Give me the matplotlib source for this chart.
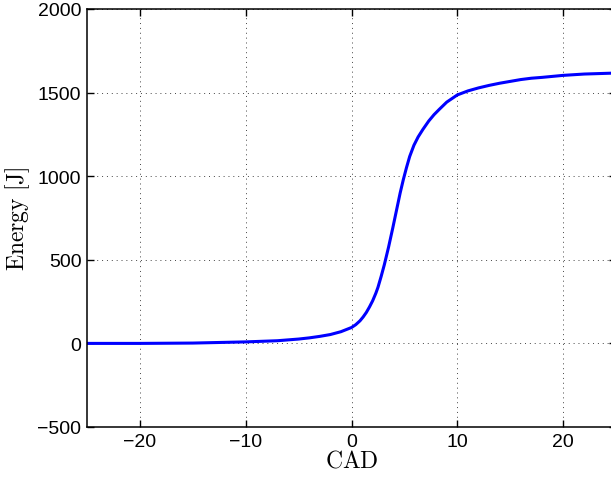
import numpy as np
import matplotlib
matplotlib.use('Agg')
import matplotlib.pyplot as plt

# crank angle (deg) and cumulative heat release energy [J]
cad = [-25, -20, -15, -10, -7, -5, -4, -3, -2, -1, 0, 0.4, 0.8, 1.1, 1.4, 1.7,
       2.0, 2.3, 2.5, 2.8, 3.1, 3.5, 3.9, 4.25, 4.6, 4.9, 5.2, 5.5, 5.9, 6.3,
       6.75, 7.3, 7.8, 8.3, 9.0, 10, 11, 12, 13, 14, 15, 16, 17, 18, 19, 20,
       21, 22, 23, 24, 25]
energy = [0, 0, 2, 9, 16, 26, 33, 42, 53, 70, 95, 112, 135, 158, 185, 218,
          255, 300, 335, 400, 470, 575, 690, 795, 900, 980, 1052, 1118, 1185,
          1235, 1280, 1330, 1368, 1400, 1443, 1486, 1510, 1528, 1543, 1556,
          1567, 1578, 1586, 1591, 1597, 1603, 1607, 1611, 1613, 1615, 1617]

xticks = [-20, -10, 0, 10, 20]
yticks = [-500, 0, 500, 1000, 1500, 2000]

plt.rcParams['mathtext.fontset'] = 'cm'
plt.rcParams['font.family'] = ['Liberation Sans', 'DejaVu Sans']

fig = plt.figure(figsize=(6.11, 4.81), dpi=100)
ax = fig.add_axes([87 / 611, 53 / 481, 529 / 611, 418 / 481])

ax.plot(cad, energy, color='#0000ff', lw=2.2, solid_joinstyle='round')

ax.set_xlim(-25, 25)
ax.set_ylim(-500, 2000)
ax.set_xticks(xticks)
ax.set_yticks(yticks)
ax.set_xticklabels([str(t).replace('-', '\u2212') for t in xticks])
ax.set_yticklabels([str(t).replace('-', '\u2212') for t in yticks])
ax.tick_params(direction='in', top=True, right=True, length=5, width=1,
               labelsize=14, pad=4)
ax.grid(True, color='#444444', linestyle=(0, (1, 4)), linewidth=0.7)
for s in ax.spines.values():
    s.set_linewidth(1.1)

ax.set_xlabel(r'$\mathrm{CAD}$', fontsize=17, labelpad=0)
ax.set_ylabel(r'$\mathrm{Energy\ [J]}$', fontsize=17, labelpad=4)

fig.savefig('out.png', dpi=100)
